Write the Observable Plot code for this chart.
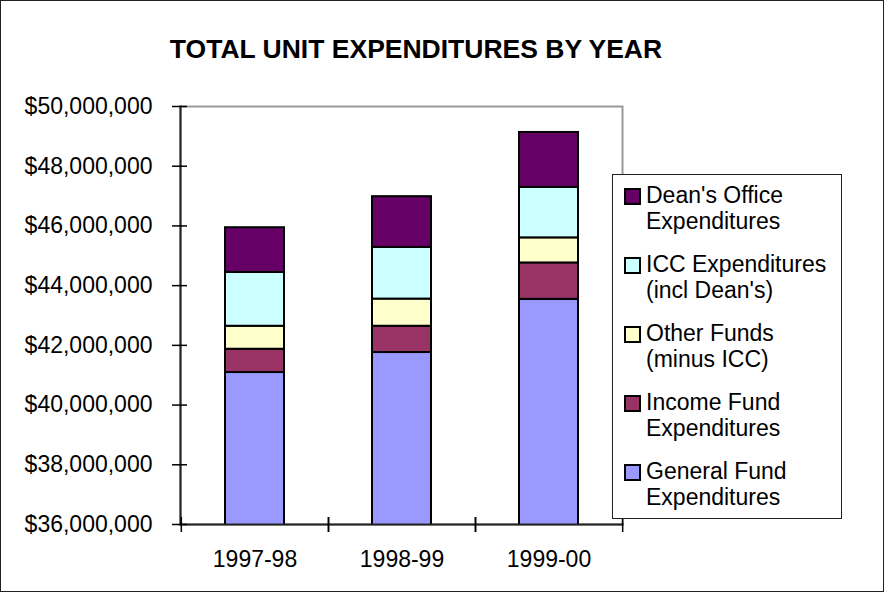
<!DOCTYPE html>
<html>
<head>
<meta charset="utf-8">
<script src="https://cdn.jsdelivr.net/npm/d3@7"></script>
<script src="https://cdn.jsdelivr.net/npm/@observablehq/plot@0.6"></script>
<style>
  body { margin: 0; background: #fff; }
  #wrap { position: relative; width: 884px; height: 592px; overflow: hidden; background: #fff;
          font-family: "Liberation Sans", Arial, sans-serif; color: #000; }
  #border { position: absolute; left: 0; top: 0; width: 884px; height: 592px; box-sizing: border-box;
            border: 1px solid #222; pointer-events: none; }
  #title { position: absolute; left: 0; top: 35px; width: 832px; text-align: center;
           font-size: 26.5px; font-weight: bold; line-height: 28px; }
  #chart { position: absolute; left: 0; top: 80px; }
  #legend { position: absolute; left: 612px; top: 174px; width: 230px; height: 345px; box-sizing: border-box;
            border: 1px solid #222; background: #fff; }
  .entry { position: absolute; left: 0; width: 228px; font-size: 23px; line-height: 26px; }
  .sw { position: absolute; left: 11px; top: 6px; width: 13px; height: 13px; border: 2px solid #000; }
  .lt { position: absolute; left: 33px; top: 0; white-space: nowrap; }
</style>
</head>
<body>
<div id="wrap">
  <div id="title"></div>
  <div id="chart"></div>
  <div id="legend"></div>
  <div id="border"></div>
</div>
<script>
// ---- data ----
const titleText = "TOTAL UNIT EXPENDITURES BY YEAR";
const years = ["1997-98", "1998-99", "1999-00"];
const generalFund = [41090000, 41760000, 43540000];
const incomeFund  = [780000, 880000, 1220000];
const otherFunds  = [770000, 910000, 840000];
const iccExp      = [1800000, 1730000, 1690000];
const deansOffice = [1500000, 1700000, 1840000];
const seriesNames = ["General Fund Expenditures", "Income Fund Expenditures", "Other Funds (minus ICC)", "ICC Expenditures (incl Dean's)", "Dean's Office Expenditures"];
const seriesColors = ["#9999FF", "#993366", "#FFFFCC", "#CCFFFF", "#660066"];
const legendLines = [
  ["Dean's Office", "Expenditures"],
  ["ICC Expenditures", "(incl Dean's)"],
  ["Other Funds", "(minus ICC)"],
  ["Income Fund", "Expenditures"],
  ["General Fund", "Expenditures"]
];
const legendSeries = [4, 3, 2, 1, 0];
const yTicks = [36000000, 38000000, 40000000, 42000000, 44000000, 46000000, 48000000, 50000000];

// ---- build ----
document.getElementById("title").textContent = titleText;

const seriesValues = [generalFund, incomeFund, otherFunds, iccExp, deansOffice];
const rows = [];
years.forEach((yr, i) => {
  seriesValues.forEach((vals, s) => rows.push({year: yr, series: seriesNames[s], value: vals[i]}));
});

const W = 884, H = 512, mL = 180, mR = 262;
const step = (W - mL - mR) / years.length;

const chart = Plot.plot({
  width: W, height: H,
  marginTop: 26, marginBottom: 68, marginLeft: mL, marginRight: mR,
  style: {fontFamily: "'Liberation Sans', Arial, sans-serif", fontSize: "23px", color: "#000", background: "transparent", overflow: "visible"},
  x: {domain: years, paddingInner: 0.6, paddingOuter: 0.3, align: 0.5, label: null},
  y: {domain: [36000000, 50000000], label: null},
  color: {domain: seriesNames, range: seriesColors},
  marks: [
    Plot.frame({stroke: "#999", strokeWidth: 2}),
    Plot.barY(rows, {x: "year", y: "value", fill: "series", stroke: "#000", strokeWidth: 2, clip: true}),
    Plot.frame({anchor: "left", stroke: "#222", strokeWidth: 2}),
    Plot.frame({anchor: "bottom", stroke: "#222", strokeWidth: 2}),
    Plot.axisY(yTicks, {tickSize: 15, dx: 7, tickPadding: 20, tickFormat: d3.format("$,"), strokeWidth: 1.5, label: null}),
    Plot.axisX({tickSize: 0, tickPadding: 26, label: null}),
    Plot.axisX({tickSize: 15, dy: -7, dx: step / 2, tickFormat: () => "", strokeWidth: 1.5, label: null}),
    Plot.axisX({tickSize: 15, dy: -7, dx: -step / 2, tickFormat: () => "", strokeWidth: 1.5, label: null})
  ]
});
document.getElementById("chart").appendChild(chart);

// legend
const legend = document.getElementById("legend");
legendLines.forEach((lines, i) => {
  const e = document.createElement("div");
  e.className = "entry";
  e.style.top = (7 + 69 * i) + "px";
  const sw = document.createElement("div");
  sw.className = "sw";
  sw.style.background = seriesColors[legendSeries[i]];
  const lt = document.createElement("div");
  lt.className = "lt";
  lt.innerHTML = lines.map(l => l.replace(/&/g, "&amp;").replace(/</g, "&lt;")).join("<br>");
  e.appendChild(sw); e.appendChild(lt);
  legend.appendChild(e);
});
</script>
</body>
</html>
